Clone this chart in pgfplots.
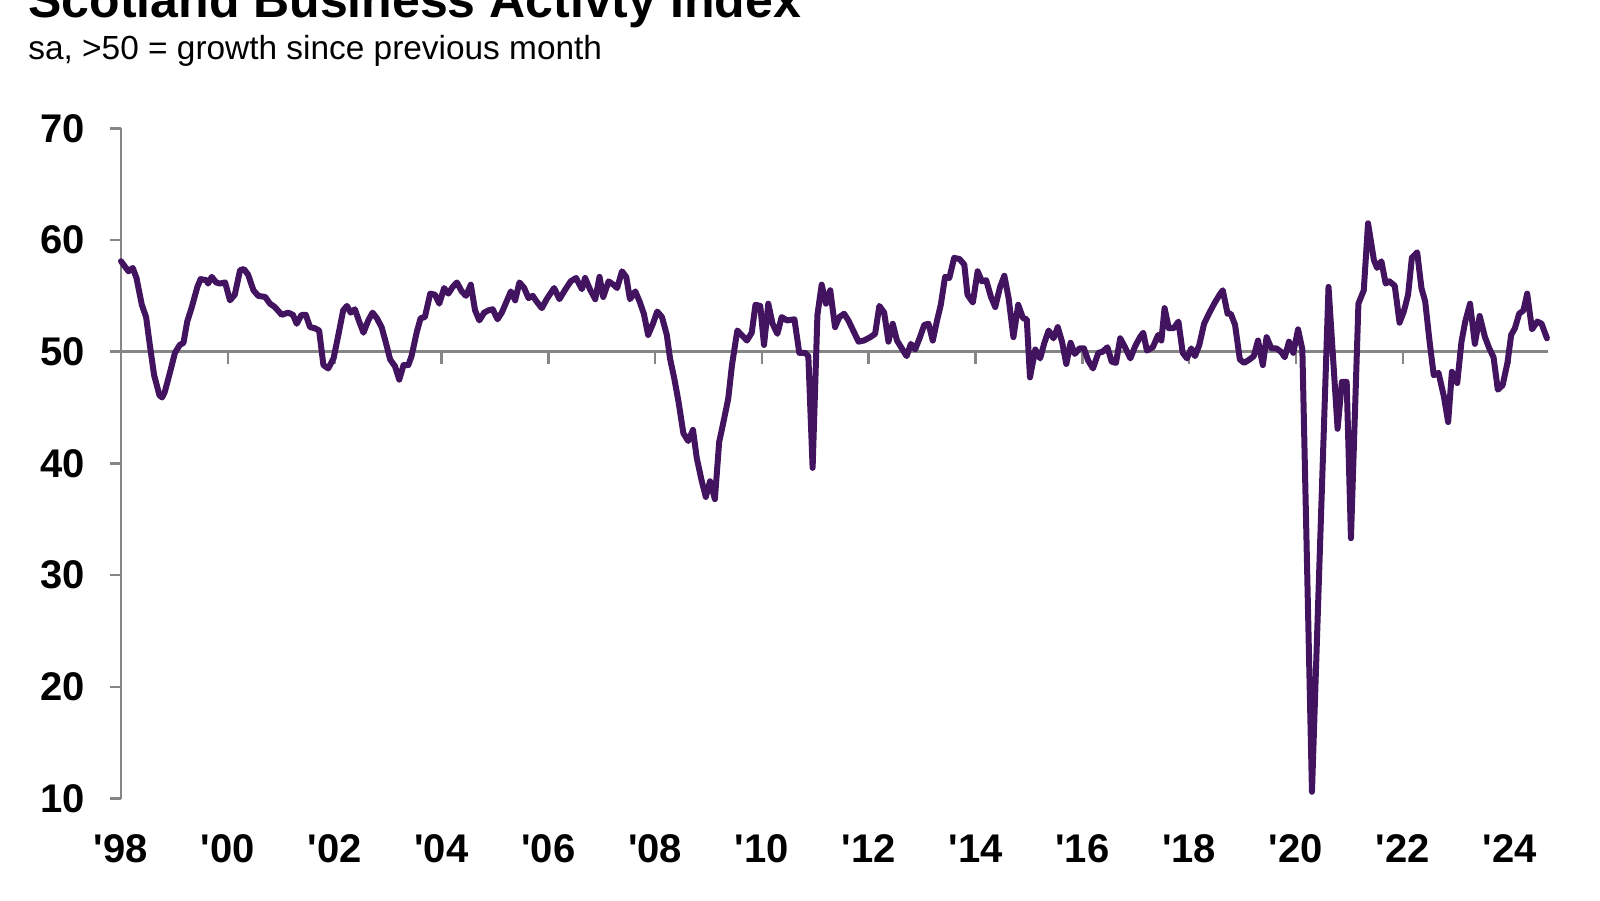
\documentclass[border=0pt]{standalone}
\usepackage{pgfplots}
\pgfplotsset{compat=1.18}
\usepackage{fontspec}
\setmainfont{Liberation Sans}[Ligatures=TeXOff]
\definecolor{linepurple}{RGB}{66,20,95}
\definecolor{axgray}{RGB}{134,134,134}
\begin{document}
\begin{tikzpicture}[x=1pt,y=1pt]
\begin{axis}[
  at={(60.5pt,50.75pt)}, anchor=south west,
  scale only axis, width=713.5pt, height=335.1pt,
  xmin=1998, xmax=2024.72, ymin=10, ymax=70,
  clip=false,
  axis y line*=left, axis x line*=bottom,
  x axis line style={draw=none},
  y axis line style={axgray, line width=1.25pt},
  xtick={1998,2000,2002,2004,2006,2008,2010,2012,2014,2016,2018,2020,2022,2024},
  xticklabels={'98,'00,'02,'04,'06,'08,'10,'12,'14,'16,'18,'20,'22,'24},
  ytick={10,20,30,40,50,60,70},
  tick align=outside,
  major tick length=5.5pt,
  x tick style={draw=none},
  y tick style={axgray, line width=1.25pt},
  tick label style={font=\bfseries\fontsize{20}{24}\selectfont, text=black},
  /pgf/number format/assume math mode=true,
  xticklabel style={yshift=-9pt},
  yticklabel style={xshift=-9pt},
]
\draw[axgray, line width=1.25pt] (axis cs:1998,50) -- (axis cs:2024.72,50);
\pgfplotsinvokeforeach{2000,2002,...,2024}{
  \draw[axgray, line width=1.25pt] (axis cs:#1,50) -- ++(0pt,-6pt);
}
\addplot[linepurple, line width=3pt, line join=round, line cap=round, no marks] table {
x y
1998.00 58.1
1998.14 57.2
1998.22 57.5
1998.29 56.6
1998.39 54.2
1998.47 53.1
1998.54 50.6
1998.62 47.9
1998.72 46.1
1998.77 45.9
1998.82 46.4
1998.92 48.2
1999.01 49.9
1999.10 50.6
1999.17 50.8
1999.24 52.7
1999.32 53.9
1999.43 55.8
1999.49 56.5
1999.60 56.4
1999.63 56.1
1999.70 56.7
1999.78 56.2
1999.85 56.1
1999.95 56.2
2000.04 54.6
2000.13 55.1
2000.23 57.3
2000.30 57.4
2000.38 56.9
2000.48 55.5
2000.57 55.0
2000.70 54.9
2000.79 54.3
2000.88 54.0
2001.01 53.3
2001.13 53.5
2001.22 53.3
2001.29 52.5
2001.38 53.3
2001.46 53.3
2001.54 52.2
2001.63 52.1
2001.71 51.9
2001.79 48.8
2001.88 48.5
2001.98 49.4
2002.07 51.5
2002.16 53.7
2002.23 54.1
2002.30 53.5
2002.38 53.8
2002.46 52.7
2002.54 51.7
2002.63 52.8
2002.71 53.5
2002.79 53.0
2002.88 52.2
2002.96 50.8
2003.04 49.3
2003.13 48.7
2003.21 47.5
2003.29 48.8
2003.38 48.8
2003.44 49.6
2003.54 51.8
2003.61 53.0
2003.69 53.1
2003.79 55.2
2003.88 55.1
2003.96 54.3
2004.05 55.7
2004.13 55.2
2004.21 55.8
2004.29 56.2
2004.38 55.4
2004.46 55.0
2004.55 56.0
2004.63 53.7
2004.71 52.8
2004.80 53.5
2004.88 53.7
2004.96 53.8
2005.05 52.9
2005.13 53.5
2005.22 54.5
2005.30 55.4
2005.38 54.6
2005.46 56.2
2005.55 55.7
2005.63 54.8
2005.71 55.0
2005.78 54.5
2005.88 53.9
2005.97 54.7
2006.11 55.7
2006.21 54.7
2006.31 55.5
2006.42 56.3
2006.52 56.6
2006.63 55.6
2006.69 56.6
2006.78 55.6
2006.88 54.7
2006.96 56.7
2007.03 54.9
2007.13 56.3
2007.22 56.0
2007.29 55.7
2007.38 57.2
2007.46 56.7
2007.53 54.7
2007.63 55.4
2007.71 54.5
2007.79 53.4
2007.87 51.5
2007.96 52.5
2008.04 53.6
2008.13 53.1
2008.22 51.5
2008.28 49.4
2008.36 47.6
2008.44 45.5
2008.53 42.7
2008.62 42.0
2008.71 43.0
2008.78 40.5
2008.87 38.5
2008.95 37.0
2009.03 38.4
2009.12 36.8
2009.20 41.9
2009.28 43.7
2009.37 45.8
2009.44 48.8
2009.54 51.9
2009.62 51.5
2009.72 51.0
2009.81 51.7
2009.88 54.2
2009.97 54.1
2010.04 50.6
2010.12 54.3
2010.20 52.5
2010.29 51.6
2010.37 53.1
2010.47 52.8
2010.61 52.9
2010.70 49.9
2010.81 49.9
2010.87 49.6
2010.95 39.6
2011.04 53.3
2011.12 56.0
2011.20 54.3
2011.28 55.5
2011.37 52.2
2011.45 53.1
2011.54 53.4
2011.62 52.8
2011.71 51.9
2011.81 50.9
2011.91 51.0
2012.03 51.3
2012.12 51.6
2012.20 54.1
2012.29 53.5
2012.37 50.9
2012.45 52.5
2012.53 51.0
2012.62 50.3
2012.71 49.6
2012.79 50.7
2012.87 50.2
2012.96 51.3
2013.04 52.4
2013.12 52.5
2013.20 51.0
2013.28 52.8
2013.35 54.2
2013.43 56.7
2013.51 56.6
2013.60 58.4
2013.70 58.3
2013.79 57.8
2013.85 55.1
2013.95 54.4
2014.04 57.2
2014.12 56.3
2014.20 56.4
2014.29 54.9
2014.37 54.0
2014.46 55.8
2014.54 56.8
2014.62 54.8
2014.71 51.3
2014.80 54.2
2014.89 53.0
2014.96 52.9
2015.02 47.7
2015.12 50.2
2015.21 49.4
2015.29 50.8
2015.37 51.9
2015.46 51.2
2015.54 52.2
2015.62 50.9
2015.70 48.9
2015.78 50.8
2015.86 49.8
2015.95 50.3
2016.03 50.3
2016.11 49.2
2016.20 48.5
2016.30 49.9
2016.38 50.0
2016.47 50.4
2016.55 49.1
2016.63 49.0
2016.71 51.2
2016.80 50.4
2016.90 49.4
2016.99 50.5
2017.08 51.3
2017.14 51.7
2017.21 50.1
2017.32 50.4
2017.42 51.5
2017.48 51.0
2017.54 53.9
2017.62 52.1
2017.71 52.1
2017.80 52.7
2017.88 49.9
2017.96 49.4
2018.04 50.3
2018.11 49.6
2018.19 50.6
2018.28 52.5
2018.37 53.4
2018.47 54.3
2018.57 55.1
2018.63 55.5
2018.72 53.4
2018.78 53.4
2018.86 52.4
2018.95 49.3
2019.03 49.0
2019.13 49.3
2019.21 49.6
2019.29 51.0
2019.38 48.8
2019.45 51.3
2019.54 50.3
2019.63 50.3
2019.72 50.0
2019.79 49.5
2019.87 50.9
2019.95 49.9
2020.04 52.0
2020.12 50.2
2020.30 10.6
2020.61 55.8
2020.78 43.1
2020.86 47.3
2020.95 47.3
2021.03 33.3
2021.17 54.3
2021.27 55.5
2021.35 61.5
2021.46 58.2
2021.52 57.5
2021.60 58.1
2021.68 56.1
2021.75 56.3
2021.85 55.9
2021.94 52.6
2022.02 53.6
2022.10 55.1
2022.17 58.4
2022.27 58.9
2022.35 55.7
2022.42 54.5
2022.50 51.0
2022.58 47.9
2022.67 48.1
2022.77 46.0
2022.85 43.7
2022.92 48.2
2023.02 47.2
2023.10 50.9
2023.17 52.7
2023.26 54.3
2023.35 50.7
2023.44 53.2
2023.54 51.3
2023.62 50.3
2023.70 49.5
2023.78 46.6
2023.87 47.0
2023.96 49.0
2024.03 51.5
2024.10 52.1
2024.18 53.4
2024.26 53.7
2024.33 55.2
2024.42 52.0
2024.52 52.7
2024.60 52.5
2024.70 51.2
};
\end{axis}
\node[anchor=base west, inner sep=0pt, font=\bfseries\fontsize{25}{30}\selectfont] at (14,441.3) {Scotland Business Activty Index};
\node[anchor=base west, inner sep=0pt, font=\fontsize{16.7}{20}\selectfont] at (14,420) {sa, >50 = growth since previous month};
\pgfresetboundingbox
\path[use as bounding box] (0,0) rectangle (800,450);
\end{tikzpicture}
\end{document}
